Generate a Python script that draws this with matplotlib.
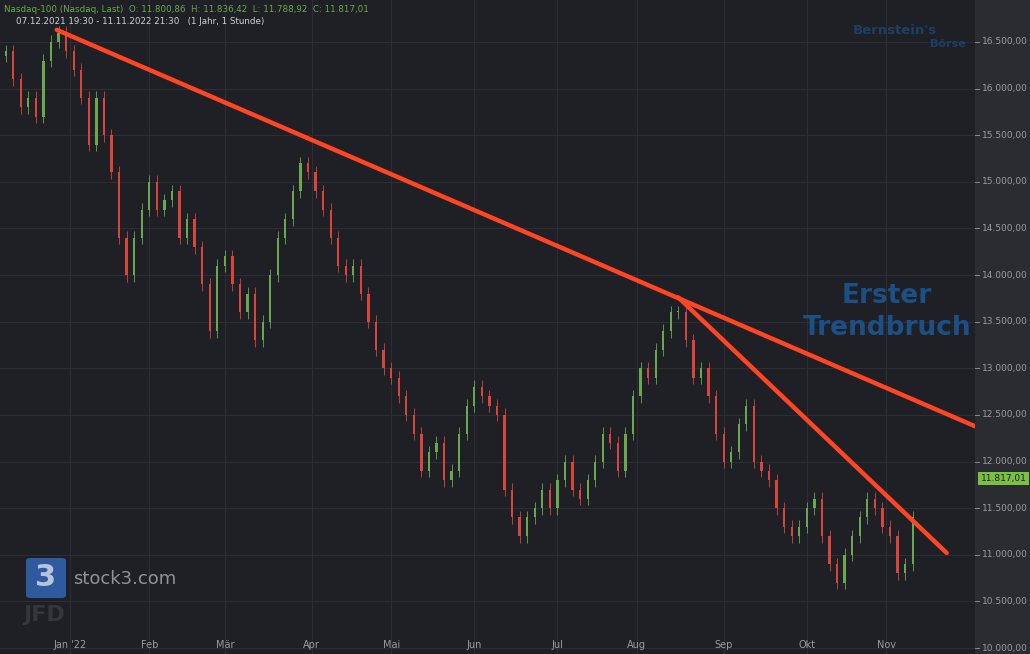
import numpy as np
import pandas as pd
import matplotlib
matplotlib.use("Agg")
import matplotlib.pyplot as plt
from matplotlib.patches import FancyBboxPatch, Rectangle

# Nasdaq-100, one close roughly every two trading days
closes = [16350, 16400, 16100, 15800, 15900, 15700, 16300, 16500, 16600, 16400,
          16200, 15900, 15400, 15900, 15500, 15100, 14400, 14000, 14400, 14700,
          15000, 14700, 14800, 14900, 14400, 14600, 14300, 13900, 13400, 14100,
          14200, 13900, 13600, 13800, 13300, 13500, 14000, 14400, 14600, 14900,
          15200, 15100, 14900, 14700, 14400, 14100, 14000, 14100, 13800, 13500,
          13200, 13000, 12900, 12700, 12500, 12300, 11900, 12100, 12200, 11800,
          11900, 12300, 12600, 12800, 12700, 12600, 12500, 11700, 11400, 11200,
          11400, 11500, 11700, 11500, 11800, 12000, 11700, 11600, 11800, 12000,
          12300, 12200, 11900, 12300, 12700, 13000, 12900, 13200, 13400, 13600,
          13600, 13300, 12900, 13000, 12700, 12300, 12000, 12100, 12400, 12600,
          12000, 11900, 11800, 11500, 11300, 11200, 11300, 11500, 11600, 11200,
          10900, 10700, 11000, 11200, 11400, 11600, 11500, 11300, 11200, 10800,
          10900, 11400, 11817]
month_labels = ["Jan '22", "Feb", "Mär", "Apr", "Mai", "Jun", "Jul", "Aug", "Sep", "Okt", "Nov"]
trend1 = ([15.5, 259.0], [16630, 12370])
trend2 = ([180.0, 251.0], [13760, 11020])

bdays = pd.date_range("2021-12-07", "2022-11-11", freq="B")
idx = np.arange(len(bdays))[::2][:len(closes)]
opens = [closes[0]] + closes[:-1]

bg = "#1e2025"
fig = plt.figure(figsize=(10.3, 6.54), dpi=100, facecolor=bg)
ax = fig.add_axes([0, 0, 975 / 1030, 1], facecolor=bg)
ax.set_xlim(0.5, 258.5)
ax.set_ylim(9936, 16950)

for x, o, c in zip(idx, opens, closes):
    col = "#6aa84f" if c >= o else "#d9453b"
    lo, hi = min(o, c), max(o, c)
    ax.vlines(x, lo - 70, hi + 70, color=col, lw=0.6, zorder=3)
    ax.add_patch(Rectangle((x - 0.3, lo), 0.6, max(hi - lo, 15), color=col, lw=0, zorder=3))

ax.plot(*trend1, color="#ff4522", lw=3.2, zorder=4, solid_capstyle="round")
ax.plot(*trend2, color="#ff4522", lw=3.2, zorder=4, solid_capstyle="round")

# grid
yt = np.arange(10000, 16501, 500)
month_pos = [np.searchsorted(bdays, pd.Timestamp(2022, m, 1)) for m in range(1, 12)]
for y in yt:
    ax.axhline(y, color="#2c2e34", lw=0.8, zorder=1)
for x in month_pos:
    ax.axvline(x, color="#2c2e34", lw=0.8, zorder=1)
ax.set_xticks([])
ax.set_yticks([])
for s in ax.spines.values():
    s.set_visible(False)
for x, lab in zip(month_pos, month_labels):
    ax.text(x, 9975, lab, color="#9a9ca3", fontsize=7, ha="center", va="bottom")

# right price axis
rax = fig.add_axes([975 / 1030, 0, 55 / 1030, 1], facecolor="#2a2c31")
rax.set_ylim(ax.get_ylim())
rax.set_xlim(0, 1)
rax.set_xticks([])
rax.set_yticks([])
for s in rax.spines.values():
    s.set_visible(False)
for y in yt:
    lab = f"{y:,.2f}".replace(",", "X").replace(".", ",").replace("X", ".")
    rax.text(0.12, y, lab, color="#9a9ca3", fontsize=6.5, va="center", ha="left")
    rax.plot([0, 0.07], [y, y], color="#9a9ca3", lw=0.6)
rax.text(0.1, closes[-1], "11.817,01", color="#1e2025", fontsize=6.5, va="center", ha="left",
         bbox=dict(boxstyle="square,pad=0.25", fc="#7bc043", ec="none"))

# header
fig.text(0.004, 0.985, "Nasdaq-100 (Nasdaq, Last)  O: 11.800,86  H: 11.836,42  L: 11.788,92  C: 11.817,01",
         color="#6aa84f", fontsize=6.3, va="center")
fig.text(0.016, 0.967, "07.12.2021 19:30 - 11.11.2022 21:30   (1 Jahr, 1 Stunde)",
         color="#d0d0d0", fontsize=6.3, va="center")

fig.text(887 / 1030, 1 - 312 / 654, "Erster\nTrendbruch", color="#1c4f86", fontsize=19,
         fontweight="bold", ha="center", va="center", linespacing=1.3)
fig.text(853 / 1030, 1 - 31 / 654, "Bernstein's", color="#1c3f66", fontsize=9.5,
         fontweight="bold", va="center")
fig.text(930 / 1030, 1 - 44 / 654, "Börse", color="#1c3f66", fontsize=8, fontweight="bold", va="center")

# stock3 logo
fig.patches.append(FancyBboxPatch((26 / 1030, 1 - 598 / 654), 40 / 1030, 40 / 654,
                                  boxstyle="round,pad=0,rounding_size=0.004",
                                  transform=fig.transFigure, fc="#2f5aa0", ec="none"))
fig.text(46 / 1030, 1 - 578 / 654, "3", color="#b8c4d8", fontsize=22, fontweight="bold",
         ha="center", va="center")
fig.text(73 / 1030, 1 - 579 / 654, "stock3.com", color="#8f9299", fontsize=13, va="center")
fig.text(44 / 1030, 1 - 615 / 654, "JFD", color="#34363c", fontsize=16, fontweight="bold",
         ha="center", va="center")

fig.savefig("out.png", dpi=100, facecolor=bg)
